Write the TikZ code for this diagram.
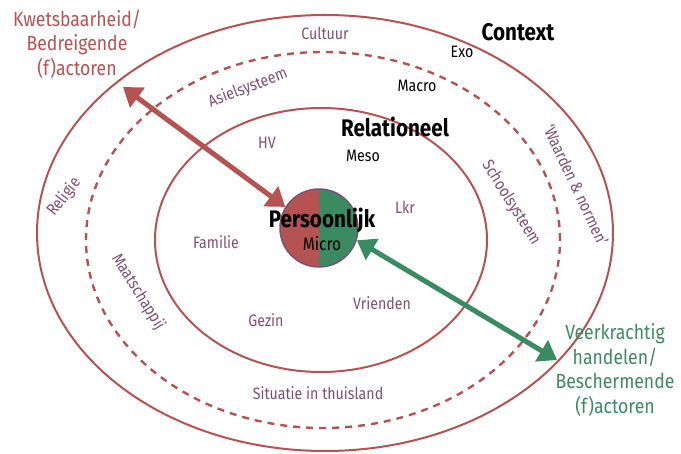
\documentclass[tikz,border=0pt]{standalone}
\usepackage{fontspec}
\setmainfont{Fira Sans}[FakeStretch=0.86]
\usetikzlibrary{arrows.meta, positioning}

\definecolor{kwred}{RGB}{181,82,82}
\definecolor{vkgreen}{RGB}{58,138,98}
\definecolor{ringpurple}{RGB}{125,80,115}

\begin{document}
\begin{tikzpicture}[%
    x=1pt, y=-1pt,
    ring/.style={draw=kwred, line width=2pt},
    dashring/.style={ring, line width=2.4pt, dash pattern=on 7pt off 6pt},
    factor/.style={text=ringpurple, font=\fontsize{16.5}{19}\selectfont},
    level/.style={font=\fontsize{16.5}{19}\selectfont},
    title/.style={font=\bfseries\fontsize{24}{28}\selectfont},
    side/.style={align=center, font=\fontsize{20.5}{24.5}\selectfont},
    bigarrow/.style={line width=5pt,
      {Triangle[length=18pt,width=24pt]}-{Triangle[length=18pt,width=24pt]}}
  ]
  \useasboundingbox (0,0) rectangle (681,454);

  % rings
  \draw[ring] (325,233) ellipse [x radius=288pt, y radius=218pt];
  \draw[dashring] (323,240) ellipse [x radius=237pt, y radius=188pt];
  \draw[ring] (321,240) ellipse [x radius=166pt, y radius=132pt];

  % personal core
  \node[circle, minimum size=78pt, inner sep=0pt, draw=ringpurple, line width=1.5pt,
        path picture={
          \fill[kwred] (path picture bounding box.south west) rectangle (path picture bounding box.north);
          \fill[vkgreen] (path picture bounding box.south) rectangle (path picture bounding box.north east);
        }] (micro) at (319,228) {};
  \node[title] (persoonlijk) at (322,220) {Persoonlijk};
  \node[level, font=\fontsize{18}{20}\selectfont, below=-3pt of persoonlijk] (microtxt) {Micro};

  % levels
  \node[title] (context) at (518,32) {Context};
  \node[level] (exo) at (462,52) {Exo};
  \node[level] (macro) at (417,86) {Macro};
  \node[title] (relationeel) at (395,127) {Relationeel};
  \node[level] (meso) at (363,156) {Meso};

  % factors
  \node[factor] (cultuur) at (325,33) {Cultuur};
  \node[factor, rotate=21] (asiel) at (248,88) {Asielsysteem};
  \node[factor, rotate=-65] (waarden) at (576,185) {`Waarden \& normen'};
  \node[factor, rotate=-58] (school) at (511,203) {Schoolsysteem};
  \node[factor, rotate=52] (religie) at (64,197) {Religie};
  \node[factor, rotate=-58] (maatschappij) at (138,292) {Maatschappij};
  \node[factor] (hv) at (267,143) {HV};
  \node[factor] (lkr) at (405,207) {Lkr};
  \node[factor] (familie) at (216,242) {Familie};
  \node[factor] (vrienden) at (382,303) {Vrienden};
  \node[factor] (gezin) at (266,320) {Gezin};
  \node[factor] (thuisland) at (318,393) {Situatie in thuisland};

  % risk and protection
  \node[side, text=kwred] (kwets) at (77,44) {Kwetsbaarheid/\\Bedreigende\\(f)actoren};
  \node[side, text=vkgreen] (veerk) at (615,370) {Veerkrachtig\\handelen/\\Beschermende\\(f)actoren};
  \coordinate (kwtip) at (123,87);
  \coordinate (vktip) at (557,360);
  \draw[bigarrow, kwred] (kwtip) -- (micro.148);
  \draw[bigarrow, vkgreen] (micro.-18) -- (vktip);
\end{tikzpicture}
\end{document}
